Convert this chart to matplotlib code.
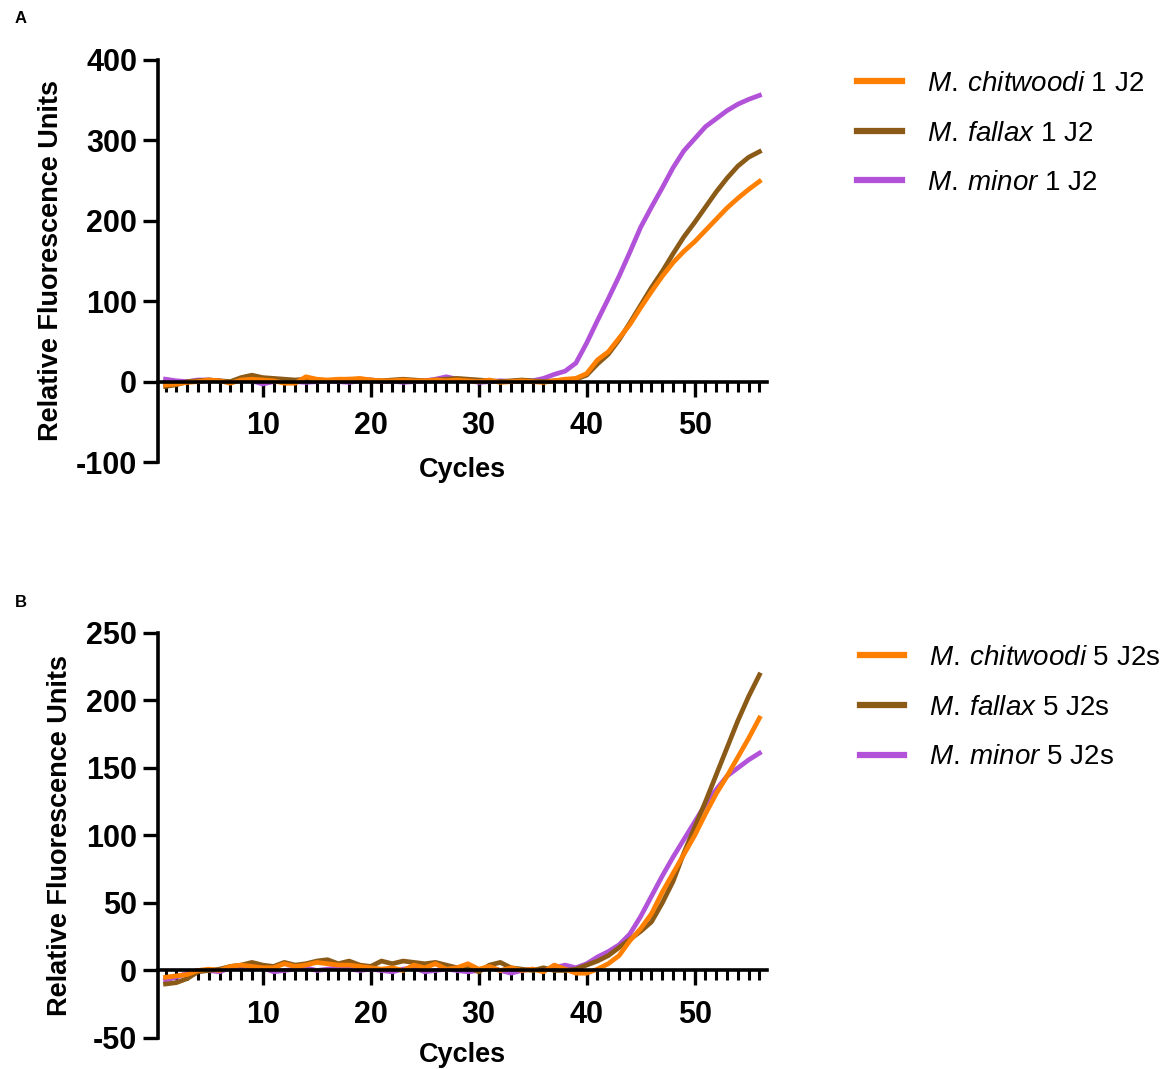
import numpy as np
import matplotlib
matplotlib.use("Agg")
from matplotlib import pyplot as plt
from matplotlib.lines import Line2D

plt.rcParams['font.family'] = ['Liberation Sans', 'DejaVu Sans']
plt.rcParams['mathtext.fontset'] = 'custom'
plt.rcParams['mathtext.rm'] = 'Liberation Sans'
plt.rcParams['mathtext.it'] = 'Liberation Sans:italic'
plt.rcParams['axes.unicode_minus'] = False

# --- data ---
cycles = np.arange(1, 57)

# panel A: 1 J2
chitwoodi_1 = [-4, -3, -1, 0, 2, 1, -2, 2, 3, 2, 1, -2, -2, 6, 3, 2, 3, 3, 4, 2,
               1, 1, 2, 1, 1, 2, 1, 2, 1, 0, 2, -1, 0, 1, 0, -1, 1, 3, 4, 10,
               27, 37, 54, 71, 92, 112, 131, 148, 162, 174, 188, 202, 216, 228, 239, 249]
fallax_1 = [-6, -4, 0, 1, 2, 1, 0, 5, 8, 5, 4, 3, 2, 3, 2, 1, 2, 3, 2, 2,
            1, 2, 3, 2, 1, 2, 3, 4, 3, 2, 1, 0, 1, 2, 1, 0, 1, 2, 3, 8,
            22, 34, 52, 73, 95, 117, 137, 159, 180, 198, 217, 236, 253, 268, 279, 286]
minor_1 = [3, 1, 0, 2, 2, 1, -1, 2, 1, -3, 0, 1, 0, -1, 0, 1, 0, -1, 1, 2,
           0, 1, -1, 0, 1, 3, 6, 3, 2, -1, 0, 1, 0, 1, 1, 4, 9, 13, 23, 48,
           76, 103, 131, 161, 192, 217, 241, 266, 287, 302, 317, 327, 337, 345, 351, 356]

# panel B: 5 J2s
chitwoodi_5 = [-5, -4, -3, 0, 1, 0, 3, 4, 3, 2, 2, 5, 3, 4, 6, 5, 4, 4, 3, 2,
               1, 2, 0, 4, 2, 5, 1, 2, 5, 1, 3, 0, 2, 0, 1, -1, 4, 1, -2, -2,
               1, 5, 11, 22, 31, 42, 58, 72, 86, 100, 116, 131, 144, 158, 172, 187]
fallax_5 = [-10, -9, -6, -1, 0, 1, 3, 4, 6, 4, 3, 6, 4, 5, 7, 8, 5, 7, 4, 3,
            7, 5, 7, 6, 5, 6, 4, 2, 3, -1, 4, 6, 2, 1, 0, 2, 0, 0, 1, 4,
            7, 11, 17, 23, 29, 36, 50, 66, 87, 106, 125, 145, 165, 185, 203, 219]
minor_5 = [-7, -5, -2, 0, 0, -1, 2, 2, 1, 2, -1, 0, 1, 2, 0, 1, 2, 1, 0, 1,
           0, -1, 1, 2, -1, 0, 1, 0, -1, 0, 2, 0, -2, 0, 1, 0, 2, 4, 2, 5,
           10, 14, 19, 27, 40, 55, 70, 84, 97, 110, 123, 134, 144, 150, 156, 161]

c_orange = '#FF7F00'
c_brown = '#8B5A17'
c_purple = '#B152D9'

fig = plt.figure(figsize=(11.71, 10.69), dpi=100)

panels = [
    dict(rect=[0.1349, 0.5678, 0.5201, 0.3761], ylim=(-100, 400), yticks=np.arange(-100, 401, 100),
         series=(chitwoodi_1, fallax_1, minor_1), suffix='1 J2', letter='A', letter_y=0.983,
         leg=(0.732, 0.9336), ylab_x=-0.155, xpad=12),
    dict(rect=[0.1349, 0.0290, 0.5201, 0.3789], ylim=(-50, 250), yticks=np.arange(-50, 251, 50),
         series=(chitwoodi_5, fallax_5, minor_5), suffix='5 J2s', letter='B', letter_y=0.436,
         leg=(0.734, 0.3966), ylab_x=-0.14, xpad=9),
]

for p in panels:
    ax = fig.add_axes(p['rect'])
    chit, fal, mino = p['series']
    ax.plot(cycles, mino, color=c_purple, lw=3.4, solid_joinstyle='round')
    ax.plot(cycles, fal, color=c_brown, lw=3.4, solid_joinstyle='round')
    ax.plot(cycles, chit, color=c_orange, lw=3.4, solid_joinstyle='round')

    ax.set_xlim(0.3, 56.7)
    ax.set_ylim(*p['ylim'])
    ax.set_yticks(p['yticks'])
    ax.set_xticks(np.arange(10, 51, 10))
    ax.set_xticks(np.arange(1, 57, 1), minor=True)

    ax.spines['top'].set_visible(False)
    ax.spines['right'].set_visible(False)
    ax.spines['bottom'].set_position(('data', 0))
    for s in ('left', 'bottom'):
        ax.spines[s].set_linewidth(2.6)
    ax.tick_params(axis='both', which='major', direction='out', length=11, width=2.4,
                   labelsize=22, pad=4)
    ax.tick_params(axis='x', which='major', pad=10)
    ax.tick_params(axis='x', which='minor', direction='out', length=7, width=2.2)
    for lbl in ax.get_xticklabels() + ax.get_yticklabels():
        lbl.set_fontweight('bold')

    ax.set_xlabel('Cycles', fontsize=19.5, fontweight='bold', labelpad=p['xpad'])
    ax.set_ylabel('Relative Fluorescence Units', fontsize=19.5, fontweight='bold')
    ax.yaxis.set_label_coords(p['ylab_x'], 0.5)

    handles = [Line2D([], [], color=c_orange, lw=4.5),
               Line2D([], [], color=c_brown, lw=4.5),
               Line2D([], [], color=c_purple, lw=4.5)]
    labels = [r'$\mathit{M.\:chitwoodi}$ ' + p['suffix'],
              r'$\mathit{M.\:fallax}$ ' + p['suffix'],
              r'$\mathit{M.\:minor}$ ' + p['suffix']]
    fig.legend(handles, labels, loc='upper left', bbox_to_anchor=p['leg'], frameon=False,
               fontsize=20, handlelength=1.6, handletextpad=0.9, labelspacing=0.85,
               borderaxespad=0, borderpad=0)

    fig.text(0.0128, p['letter_y'], p['letter'], fontsize=12, fontweight='bold', va='center')

fig.savefig('out.png', dpi=100)
